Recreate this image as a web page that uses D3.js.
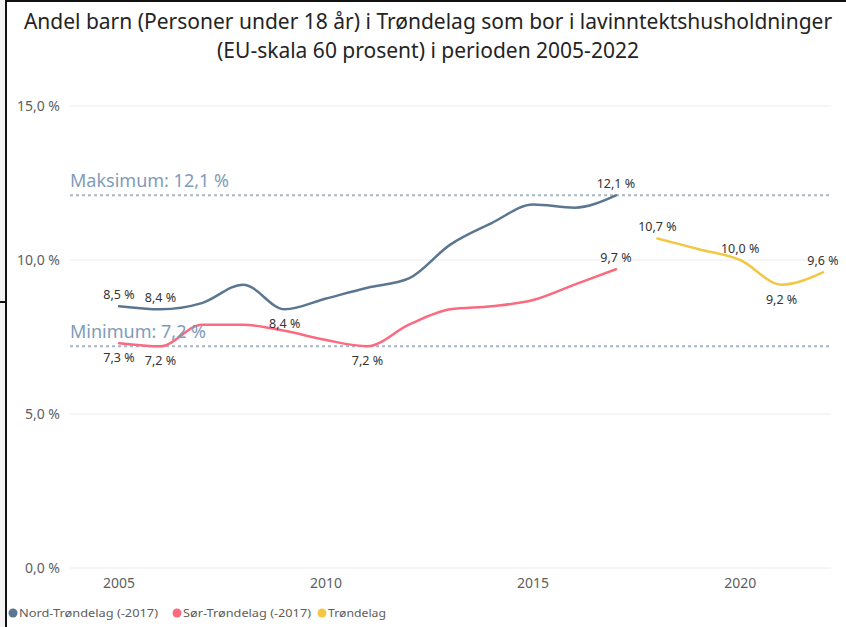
<!DOCTYPE html>
<html>
<head>
<meta charset="utf-8">
<script src="https://cdn.jsdelivr.net/npm/d3@7"></script>
<style>
  body { margin: 0; background: #fff; }
  svg { display: block; font-family: "Noto Sans", "Open Sans", sans-serif; }
</style>
</head>
<body>
<div class="container"></div>
<script>
// data
const yearsNord = [2005, 2006, 2007, 2008, 2009, 2010, 2011, 2012, 2013, 2014, 2015, 2016, 2017]
const nordValues = [8.5, 8.4, 8.6, 9.2, 8.4, 8.75, 9.1, 9.4, 10.5, 11.2, 11.8, 11.7, 12.1]
const sorValues = [7.3, 7.2, 7.9, 7.9, 7.7, 7.4, 7.2, 7.9, 8.4, 8.5, 8.7, 9.2, 9.7]
const yearsTrond = [2018, 2019, 2020, 2021, 2022]
const trondValues = [10.7, 10.35, 10.0, 9.2, 9.6]

const seriesNames = ['Nord-Trøndelag (-2017)', 'Sør-Trøndelag (-2017)', 'Trøndelag']
const seriesColors = ['#5b7690', '#fa6b80', '#f2c744']

const yTicks = [0, 5, 10, 15]
const xTicks = [2005, 2010, 2015, 2020]
const maxValue = 12.1, minValue = 7.2

// which points get a label, and whether above or below
const nordLabels = {2005: 'up', 2006: 'up', 2009: 'down', 2017: 'up'}
const sorLabels = {2005: 'down', 2006: 'down', 2011: 'down', 2017: 'up'}
const trondLabels = {2018: 'up', 2020: 'up', 2021: 'down', 2022: 'up'}

const width = 846, height = 627
const svg = d3.select('.container').append('svg').attr('width', width).attr('height', height)

// window frame from the screenshot
svg.append('rect').attr('x', 0).attr('y', 0).attr('width', 6).attr('height', height).attr('fill', '#f3f3f3')
svg.append('rect').attr('x', 0).attr('y', 301).attr('width', 6).attr('height', 2).attr('fill', '#111')
svg.append('rect').attr('x', 5).attr('y', 0).attr('width', 2).attr('height', height).attr('fill', '#111')
svg.append('rect').attr('x', 5).attr('y', 0).attr('width', width).attr('height', 2).attr('fill', '#111')

const x = d3.scaleLinear().domain([2005, 2022]).range([119, 823])
const y = d3.scaleLinear().domain([0, 15]).range([568, 106])

const fmt = v => d3.format('.1f')(v).replace('.', ',') + ' %'

// title
const title = svg.append('text').attr('text-anchor', 'middle').attr('fill', '#252423')
  .style('font-size', '21px')
title.append('tspan').attr('x', 428).attr('y', 29)
  .text('Andel barn (Personer under 18 år) i Trøndelag som bor i lavinntektshusholdninger')
title.append('tspan').attr('x', 428).attr('y', 58)
  .text('(EU-skala 60 prosent) i perioden 2005-2022')

// gridlines + y labels
svg.append('g').selectAll('line').data(yTicks).enter().append('line')
  .attr('x1', 70).attr('x2', 831)
  .attr('y1', d => y(d)).attr('y2', d => y(d))
  .attr('stroke', '#ececec').attr('stroke-width', 1)

svg.append('g').selectAll('text').data(yTicks).enter().append('text')
  .attr('x', 60).attr('y', d => y(d) + 5)
  .attr('text-anchor', 'end')
  .attr('fill', '#605e5c').style('font-size', '14px')
  .text(d => fmt(d))

// x labels
svg.append('g').selectAll('text').data(xTicks).enter().append('text')
  .attr('x', d => x(d)).attr('y', 588)
  .attr('text-anchor', 'middle')
  .attr('fill', '#605e5c').style('font-size', '14px')
  .text(d => d)

// reference lines
const refs = [{label: 'Maksimum', v: maxValue}, {label: 'Minimum', v: minValue}]
svg.append('g').selectAll('line').data(refs).enter().append('line')
  .attr('x1', 70).attr('x2', 831)
  .attr('y1', d => y(d.v)).attr('y2', d => y(d.v))
  .attr('stroke', '#a7b6c4').attr('stroke-width', 2).attr('stroke-dasharray', '3,3')

const line = d3.line().x(d => x(d.year)).y(d => y(d.v)).curve(d3.curveMonotoneX)

const series = [
  {years: yearsNord, values: nordValues, labels: nordLabels},
  {years: yearsNord, values: sorValues, labels: sorLabels},
  {years: yearsTrond, values: trondValues, labels: trondLabels}
]

series.forEach((s, i) => {
  const pts = s.years.map((yr, j) => ({year: yr, v: s.values[j]}))
  svg.append('path').datum(pts)
    .attr('d', line)
    .attr('fill', 'none')
    .attr('stroke', seriesColors[i])
    .attr('stroke-width', 2.5)
    .attr('stroke-linecap', 'round')
})

// ref labels drawn over lines like in the original
svg.append('g').selectAll('text').data(refs).enter().append('text')
  .attr('x', 70).attr('y', d => y(d.v) - 8)
  .attr('fill', '#7f9cb9').style('font-size', '18px')
  .text(d => d.label + ': ' + fmt(d.v))

// data labels
series.forEach((s, i) => {
  const pts = s.years.map((yr, j) => ({year: yr, v: s.values[j]})).filter(d => s.labels[d.year])
  svg.append('g').selectAll('text').data(pts).enter().append('text')
    .attr('x', d => x(d.year))
    .attr('y', d => s.labels[d.year] == 'up' ? y(d.v) - 7 : y(d.v) + 19)
    .attr('text-anchor', 'middle')
    .attr('fill', '#333').style('font-size', '12.5px')
    .text(d => fmt(d.v))
})

// legend
const legend = svg.append('g').attr('transform', 'translate(0,613)')
let lx = 13
seriesNames.forEach((name, i) => {
  legend.append('circle').attr('cx', lx).attr('cy', 0).attr('r', 4.5).attr('fill', seriesColors[i])
  legend.append('text').attr('x', lx + 6).attr('y', 4)
    .attr('fill', '#605e5c').style('font-size', '11px')
    .attr('textLength', [139, 128, 58][i]).attr('lengthAdjust', 'spacingAndGlyphs')
    .text(name)
  lx += [164, 145][i] || 0
})
</script>
</body>
</html>
